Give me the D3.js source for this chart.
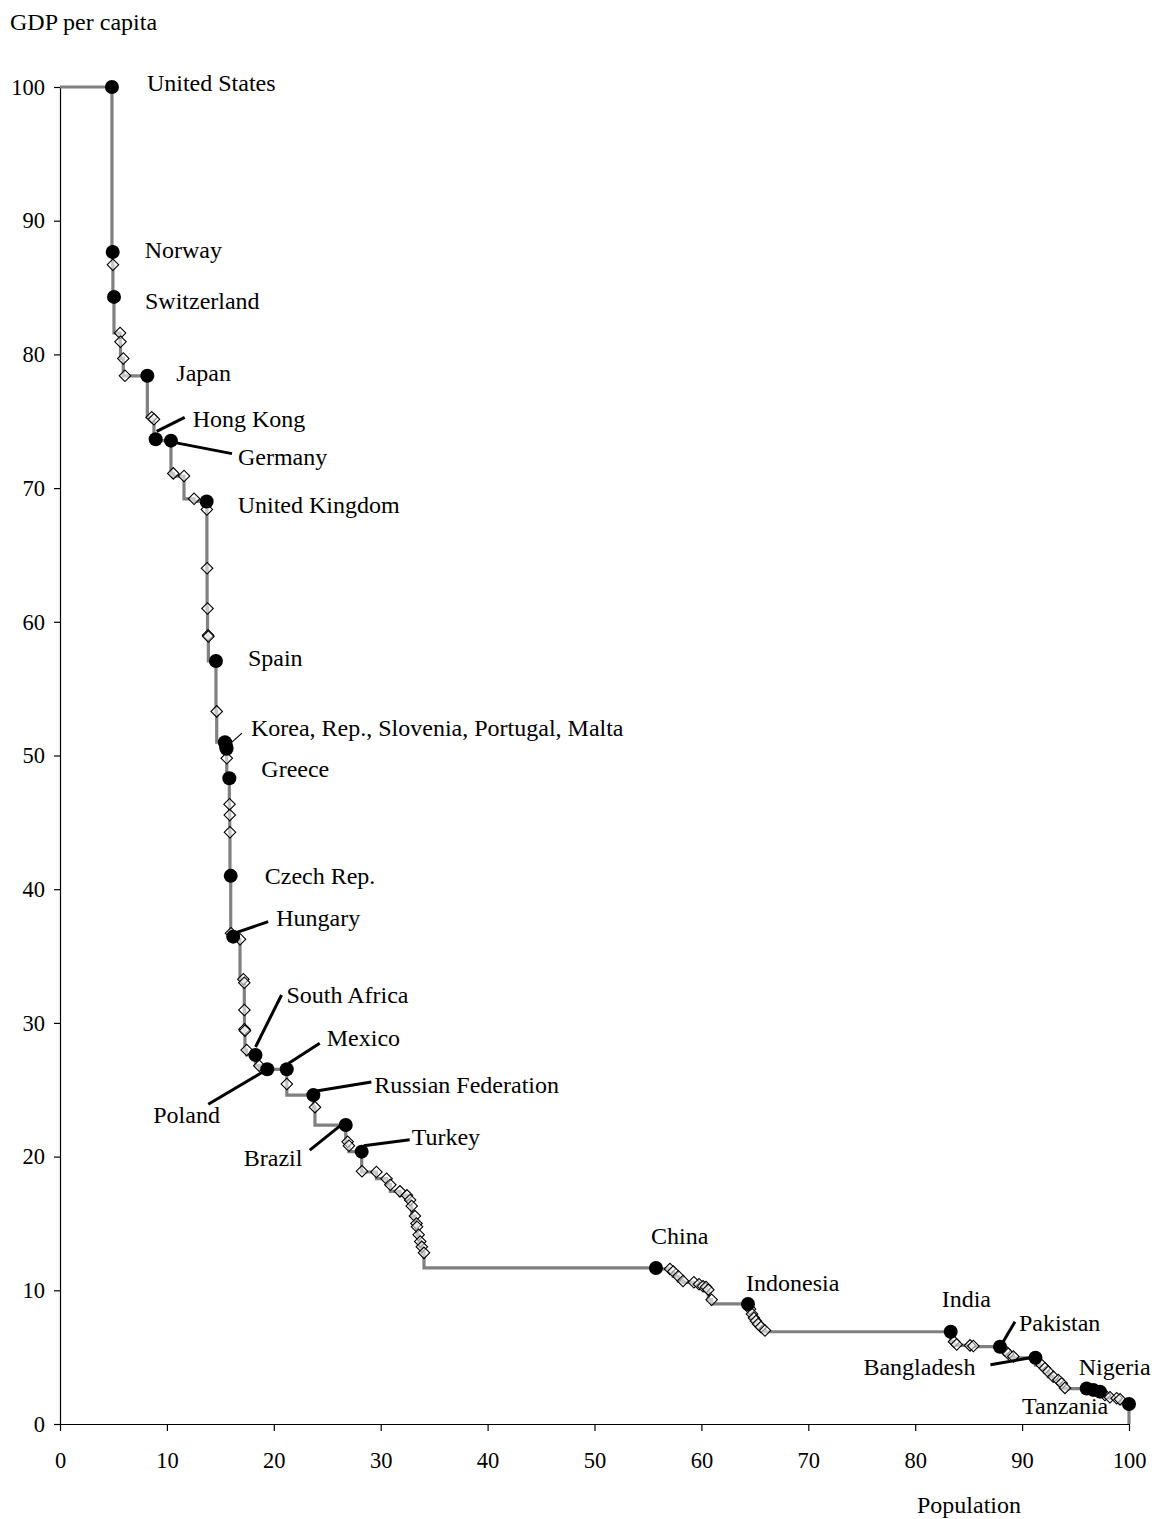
<!DOCTYPE html>
<html>
<head>
<meta charset="utf-8">
<script src="https://cdn.jsdelivr.net/npm/d3@7"></script>
<style>
  html, body { margin: 0; padding: 0; background: #fff; }
  svg { display: block; }
  text { font-family: "Liberation Serif", "Times New Roman", serif; fill: #000; }
</style>
</head>
<body>
<div id="chart"></div>
<script>
// ---- Data (cumulative population share at end of each country, GDP per capita index) ----
const pop = [
  4.86, 4.93, 4.95, 5.05, 5.62, 5.66, 5.92, 6.08, 8.17, 8.58,
  8.79, 8.95, 10.38, 10.6, 11.6, 12.54, 13.72, 13.74, 13.76, 13.8,
  13.85, 13.88, 14.59, 14.66, 15.43, 15.48, 15.56, 15.58, 15.6, 15.84,
  15.86, 15.88, 15.9, 15.97, 16.0, 16.2, 16.84, 17.15, 17.24, 17.25,
  17.26, 17.3, 17.46, 18.29, 18.64, 19.39, 21.21, 21.22, 23.7, 23.85,
  26.73, 26.91, 27.03, 28.22,
  28.25, 29.6, 30.55, 30.9, 31.8, 32.45, 32.75, 32.9, 33.2, 33.35,
  33.4, 33.55, 33.7, 33.85, 34.05,
  55.75, 57.06, 57.37, 57.84, 58.28, 59.3, 59.78, 60.15, 60.43, 60.65, 60.96,
  64.36, 64.55, 64.73, 64.92, 65.1, 65.3, 65.57, 65.95,
  83.32, 83.63, 83.88, 85.13, 85.44,
  87.93, 88.4, 88.71, 89.18,
  91.25, 91.83, 92.14, 92.45, 92.92, 93.39, 93.7, 94.01,
  96.04, 96.66, 97.29, 97.75, 98.22, 98.85, 99.16, 100
];
const gdp = [
  100, 87.66, 86.7, 84.3, 81.6, 80.95, 79.7, 78.4, 78.4, 75.3,
  75.15, 73.65, 73.55, 71.1, 70.9, 69.2, 69.0, 68.4, 64.0, 61.0,
  59.0, 58.9, 57.07, 53.3, 51.0, 50.9, 50.6, 50.5, 49.8, 48.3,
  46.35, 45.55, 44.26, 41.0, 36.7, 36.45, 36.25, 33.26, 33.0, 30.96,
  29.52, 29.42, 27.97, 27.6, 26.8, 26.53, 26.53, 25.43, 24.6, 23.7,
  22.36, 21.11, 20.81, 20.37,
  18.9, 18.85, 18.35, 17.9, 17.4, 17.1, 16.75, 16.3, 15.55, 15.0,
  14.75, 14.15, 13.65, 13.25, 12.8,
  11.67, 11.6, 11.4, 11.05, 10.7, 10.6, 10.45, 10.3, 10.25, 10.05, 9.3,
  8.98, 8.6, 8.23, 7.93, 7.7, 7.48, 7.25, 7.0,
  6.9, 6.16, 5.95, 5.88, 5.83,
  5.78, 5.5, 5.25, 5.05,
  4.95, 4.41, 4.17, 3.91, 3.54, 3.29, 3.04, 2.7,
  2.65, 2.55, 2.42, 2.17, 2.0, 1.92, 1.85, 1.5
];
// 'c' = highlighted country (filled circle), 'd' = other country (diamond)
const kind = [
  'c','c','d','c','d','d','d','d','c','d',
  'd','c','c','d','d','d','c','d','d','d',
  'd','d','c','d','c','c','c','c','d','c',
  'd','d','d','c','d','c','d','d','d','d',
  'd','d','d','c','d','c','c','d','c','d',
  'c','d','d','c',
  'd','d','d','d','d','d','d','d','d','d',
  'd','d','d','d','d',
  'c','d','d','d','d','d','d','d','d','d','d',
  'c','d','d','d','d','d','d','d',
  'c','d','d','d','d',
  'c','d','d','d',
  'c','d','d','d','d','d','d','d',
  'c','c','c','d','d','d','d','c'
];
// Country labels and the index of the point they name
const labelText = [
  "United States", "Norway", "Switzerland", "Japan", "Hong Kong", "Germany",
  "United Kingdom", "Spain", "Korea, Rep., Slovenia, Portugal, Malta", "Greece",
  "Czech Rep.", "Hungary", "South Africa", "Mexico", "Poland", "Russian Federation",
  "Brazil", "Turkey", "China", "Indonesia", "India", "Pakistan", "Bangladesh",
  "Nigeria", "Tanzania"
];
const labelPoint = [0, 1, 3, 8, 11, 12, 16, 22, 24, 29, 33, 35, 43, 46, 45, 48, 50, 53, 69, 80, 88, 93, 97, 105, 112];
const xTicks = [0, 10, 20, 30, 40, 50, 60, 70, 80, 90, 100];
const yTicks = [0, 10, 20, 30, 40, 50, 60, 70, 80, 90, 100];
const xTitle = "Population";
const yTitle = "GDP per capita";

// ---- Layout (pixel offsets of labels/leaders relative to their point) ----
const labelLayout = [
  {dx: 35, dy: 3},
  {dx: 32, dy: 5},
  {dx: 31, dy: 11},
  {dx: 29, dy: 4},
  {dx: 37, dy: -13, lead: [1, -8, 29, -22]},
  {dx: 67, dy: 23, lead: [4, 2, 61, 13]},
  {dx: 31, dy: 11},
  {dx: 32, dy: 4},
  {dx: 26, dy: -7, lead: [7, 0, 17, -9], thin: true},
  {dx: 32, dy: -2},
  {dx: 34, dy: 7},
  {dx: 43, dy: -12, lead: [0, -3, 35, -15]},
  {dx: 31, dy: -53, lead: [0, -8, 26, -60]},
  {dx: 40, dy: -24, lead: [2, -6, 33, -26]},
  {dx: -114, dy: 53, lead: [-59, 35, -5, 3]},
  {dx: 61, dy: -3, lead: [3, -4, 58, -13]},
  {dx: -102, dy: 40, lead: [-36, 25, -6, 1]},
  {dx: 50, dy: -8, lead: [2, -6, 48, -12]},
  {dx: -5, dy: -25},
  {dx: -2, dy: -14},
  {dx: -9, dy: -26},
  {dx: 19, dy: -17, lead: [2, -3, 15, -25]},
  {dx: -172, dy: 16, lead: [-45, 7, -5, 0]},
  {dx: -8, dy: -15},
  {dx: -107, dy: 9}
];

const W = 1160, H = 1519;
const svg = d3.select("#chart").append("svg").attr("width", W).attr("height", H);

const x = d3.scaleLinear().domain([0, 100]).range([60, 1129]);
const y = d3.scaleLinear().domain([0, 100]).range([1424, 87]);

// axes
const yAxis = d3.axisLeft(y).tickValues(yTicks).tickSize(6).tickSizeOuter(0).tickPadding(9).tickFormat(d3.format("d"));
const xAxis = d3.axisBottom(x).tickValues(xTicks).tickSize(7).tickSizeOuter(0).tickPadding(21).tickFormat(d3.format("d"));

const gy = svg.append("g").attr("transform", "translate(60,0)").call(yAxis);
const gx = svg.append("g").attr("transform", "translate(0,1424)").call(xAxis);
[gx, gy].forEach(g => {
  g.selectAll("path.domain").attr("stroke", "#000").attr("stroke-width", 1.2);
  g.selectAll(".tick line").attr("stroke", "#000").attr("stroke-width", 1.2);
  g.selectAll(".tick text").attr("font-size", 22.5).attr("font-family", "Liberation Serif").attr("fill", "#000");
});

// axis titles
svg.append("text").attr("x", 10).attr("y", 30).attr("font-size", 24).text(yTitle);
svg.append("text").attr("x", 917).attr("y", 1513).attr("font-size", 24).text(xTitle);

// step line
const pts = pop.map((p, i) => [p, gdp[i]]);
const linePts = [[0, gdp[0]]].concat(pts).concat([[100, 0]]);
const line = d3.line().x(d => x(d[0])).y(d => y(d[1])).curve(d3.curveStepBefore);
svg.append("path").datum(linePts).attr("d", line)
  .attr("fill", "none").attr("stroke", "#808080").attr("stroke-width", 3.2);

// diamonds
const diamond = d3.symbol().type(d3.symbolSquare).size(66)();
svg.append("g").selectAll("path").data(pts.filter((d, i) => kind[i] === 'd')).join("path")
  .attr("d", diamond)
  .attr("transform", d => `translate(${x(d[0])},${y(d[1])}) rotate(45)`)
  .attr("fill", "#fff").attr("fill-opacity", 0.55)
  .attr("stroke", "#000").attr("stroke-width", 1.1);

// circles
svg.append("g").selectAll("circle").data(pts.filter((d, i) => kind[i] === 'c')).join("circle")
  .attr("cx", d => x(d[0])).attr("cy", d => y(d[1])).attr("r", 7).attr("fill", "#000");

// labels and leader lines
const lg = svg.append("g");
labelText.forEach((t, k) => {
  const i = labelPoint[k];
  const px = x(pop[i]), py = y(gdp[i]);
  const L = labelLayout[k];
  if (L.lead) {
    lg.append("line")
      .attr("x1", px + L.lead[0]).attr("y1", py + L.lead[1])
      .attr("x2", px + L.lead[2]).attr("y2", py + L.lead[3])
      .attr("stroke", "#000").attr("stroke-width", L.thin ? 1.2 : 3);
  }
  lg.append("text").attr("x", px + L.dx).attr("y", py + L.dy + 1)
    .attr("font-size", 24).text(t);
});
</script>
</body>
</html>
